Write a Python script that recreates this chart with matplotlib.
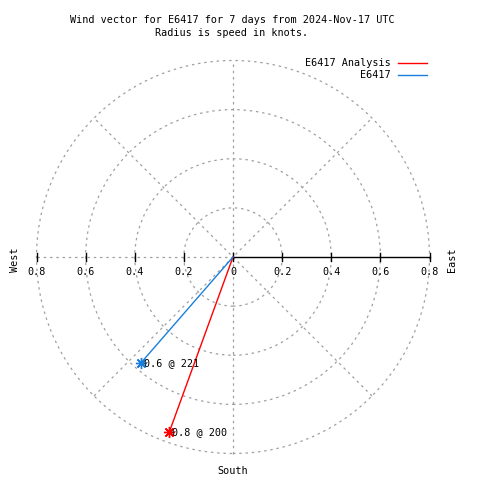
import numpy as np
import matplotlib
matplotlib.use("Agg")
import matplotlib.pyplot as plt
from matplotlib.patches import Circle

# ---- data ----
series_names = ["E6417 Analysis", "E6417"]
series_colors = ["#ff0000", "#1a7fdc"]
speeds = [0.76, 0.57]          # knots
directions = [200, 221]        # degrees (compass)
rings = [0.2, 0.4, 0.6, 0.8]
tick_values = [0.2, 0.4, 0.6, 0.8]
tick_labels = ["0.2", "0.4", "0.6", "0.8"]
title_lines = ["Wind vector for E6417 for 7 days from 2024-Nov-17 UTC",
               "Radius is speed in knots."]

W, H = 480, 480
fig = plt.figure(figsize=(W / 100, H / 100), dpi=100)
R = 0.8
rpx = 196.5
cx, cy = 233.0, 257.0
ax = fig.add_axes([(cx - rpx) / W, (H - cy - rpx) / H, 2 * rpx / W, 2 * rpx / H])
ax.set_xlim(-R, R)
ax.set_ylim(-R, R)
ax.set_aspect("equal")
ax.axis("off")

font = "DejaVu Sans Mono"
fs = 7.3
grid_kw = dict(color="#a0a0a0", lw=0.9, ls=(0, (2, 3)), zorder=1)

# rings
for r in rings:
    ax.add_patch(Circle((0, 0), r, fill=False, clip_on=False, **grid_kw))
# diagonals
for ang in [45, 135]:
    a = np.deg2rad(ang)
    ax.plot([-R * np.cos(a), R * np.cos(a)], [-R * np.sin(a), R * np.sin(a)], clip_on=False, **grid_kw)
# vertical and left horizontal dashed
ax.plot([0, 0], [-R, R], clip_on=False, **grid_kw)
ax.plot([-R, 0], [0, 0], clip_on=False, **grid_kw)
# right solid axis
ax.plot([0, R], [0, 0], color="black", lw=1.0, clip_on=False, zorder=3)

tl = 4.0 / rpx * R
for v, lab in zip(tick_values, tick_labels):
    for s in (1, -1):
        ax.plot([s * v, s * v], [-tl, tl], color="black", lw=1.0, clip_on=False, zorder=3)
        ax.text(s * v, -0.06, lab, ha="center", va="center", fontsize=fs, family=font, zorder=4)
ax.plot([0, 0], [-tl, tl], color="black", lw=1.0, clip_on=False, zorder=3)
ax.text(0, -0.06, "0", ha="center", va="center", fontsize=fs, family=font, zorder=4)

# compass labels
ax.text(-R - 0.087, -0.01, "West", rotation=90, ha="center", va="center", fontsize=fs, family=font)
ax.text(R + 0.09, -0.01, "East", rotation=90, ha="center", va="center", fontsize=fs, family=font)
ax.text(0, -R - 0.073, "South", ha="center", va="center", fontsize=fs, family=font)

# vectors
for name, col, sp, d in zip(series_names, series_colors, speeds, directions):
    th = np.deg2rad(d)
    x, y = sp * np.sin(th), sp * np.cos(th)
    ax.plot([0, x], [0, y], color=col, lw=1.0, zorder=5, clip_on=False)
    ax.plot([x], [y], marker=(8, 2, 0), ms=8, mew=1.0, color=col, zorder=6, clip_on=False)
    ax.text(x + 0.012, y, f"{sp:.1f} @ {d}", ha="left", va="center", fontsize=fs, family=font, zorder=7)

# legend (manual, in figure pixels)
for i, (name, col) in enumerate(zip(series_names, series_colors)):
    ypx = 63 + 12 * i
    fig.text(391 / W, 1 - ypx / H, name, ha="right", va="center", fontsize=fs, family=font)
    fig.add_artist(plt.Line2D([398 / W, 427 / W], [1 - ypx / H, 1 - ypx / H], color=col, lw=1.0))

# title
for i, t in enumerate(title_lines):
    fig.text(232 / W, 1 - (20 + 13 * i) / H, t, ha="center", va="center", fontsize=fs, family=font)

fig.savefig("out.png", dpi=100, facecolor="white")
